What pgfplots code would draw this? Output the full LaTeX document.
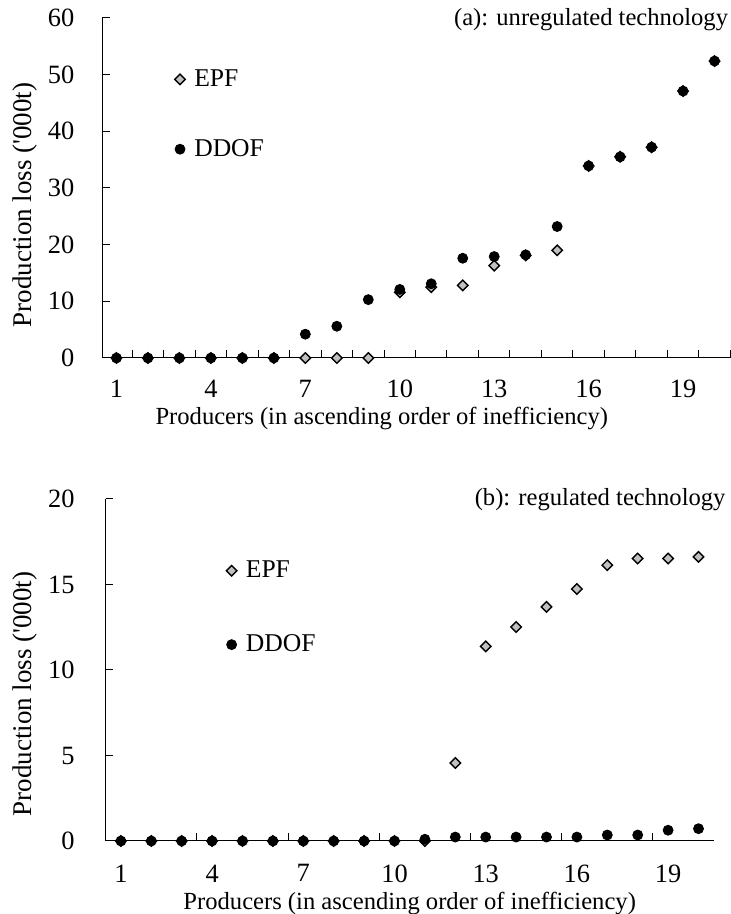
\documentclass[border=0pt]{standalone}
\usepackage{pgfplots}
\pgfplotsset{compat=1.18}
\usepackage{pgfplotstable}
\usepackage{fontspec}
\setmainfont{Liberation Serif}

\definecolor{epfgray}{RGB}{192,192,192}

\pgfplotstableread{
x y
1 0
2 0
3 0
4 0
5 0
6 0
7 0
8 0
9 0
10 11.6
11 12.5
12 12.8
13 16.3
14 18.1
15 19.0
16 33.9
17 35.5
18 37.2
19 47.1
20 52.4
}\epfa
\pgfplotstableread{
x y
1 0
2 0
3 0
4 0
5 0
6 0
7 4.2
8 5.6
9 10.3
10 12.1
11 13.1
12 17.6
13 17.9
14 18.2
15 23.2
16 33.9
17 35.5
18 37.2
19 47.1
20 52.4
}\ddofa
\pgfplotstableread{
x y
1 0
2 0
3 0
4 0
5 0
6 0
7 0
8 0
9 0
10 0
11 0
12 4.56
13 11.38
14 12.51
15 13.69
16 14.74
17 16.13
18 16.52
19 16.52
20 16.62
}\epfb
\pgfplotstableread{
x y
1 0
2 0
3 0
4 0
5 0
6 0
7 0
8 0
9 0
10 0
11 0.1
12 0.23
13 0.23
14 0.23
15 0.23
16 0.23
17 0.35
18 0.35
19 0.63
20 0.72
}\ddofb

\pgfplotsset{
  myaxis/.style={
    scale only axis,
    axis lines*=left,
    axis line style={-, line width=0.5pt, black},
    tick align=inside,
    tick style={black, line width=0.5pt},
    major tick length=3.8pt,
    minor tick length=3.8pt,
    major x tick style={draw=none},
    xtick={1,4,7,10,13,16,19},
    font=\fontsize{12.3}{15}\selectfont,
    tick label style={font=\fontsize{13.2}{15}\selectfont},
    /pgf/number format/assume math mode=true,
    clip=false,
    ylabel={Production loss (\textquotesingle 000t)},
    xlabel={Producers (in ascending order of inefficiency)},
    ylabel style={font=\fontsize{13.5}{15}\selectfont},
    legend cell align=left,
    legend style={draw=none, fill=none, column sep=2.5pt, font=\fontsize{12.8}{15}\selectfont},
    legend image code/.code={\draw[#1] plot coordinates {(0pt,0pt)};},
  },
  epf/.style={only marks, mark=square*, mark size=1.85pt, mark options={rotate=45, fill=epfgray, draw=black, line width=0.7pt}},
  ddof/.style={only marks, mark=*, mark size=2.5pt, mark options={fill=black, draw=black}},
}

\begin{document}
\begin{tikzpicture}
\path[use as bounding box] (0,0) rectangle (365pt,457pt);
% top panel
\begin{axis}[myaxis,
  at={(51.15pt,278pt)}, anchor=south west,
  width=314pt, height=170pt,
  xmin=0.55, xmax=20.5, ymin=0, ymax=60,
  ytick={0,10,...,60},
  minor xtick={1.5,2.5,...,20.5},
  xticklabel style={yshift=-7.5pt},
  yticklabel style={xshift=-10.5pt},
  ylabel style={at={(axis description cs:-0.1226,0.45)}, anchor=center},
  xlabel style={at={(axis description cs:0.445,0)}, anchor=base, yshift=-33.5pt},
  title={(a): unregulated technology},
  every axis title/.style={at={(rel axis cs:0.997,0.979)}, anchor=base east, inner sep=0pt, font=\fontsize{12.3}{15}\selectfont},
  legend style={at={(axis cs:2.65,43.0)}, anchor=west, row sep=21pt},
]
\addplot[epf] table {\epfa};
\addplot[ddof] table {\ddofa};
\legend{EPF,DDOF}
\end{axis}
% bottom panel
\begin{axis}[myaxis,
  at={(52.85pt,36.5pt)}, anchor=south west,
  width=304pt, height=171pt,
  xmin=0.5, xmax=20.5, ymin=0, ymax=20,
  ytick={0,5,...,20},
  minor xtick={3.5,6.5,...,18.5},
  xticklabel style={yshift=-8.3pt},
  yticklabel style={xshift=-12pt},
  ylabel style={at={(axis description cs:-0.1325,0.43)}, anchor=center},
  xlabel style={at={(axis description cs:0.5,0)}, anchor=base, yshift=-34.2pt},
  title={(b): regulated technology},
  every axis title/.style={at={(rel axis cs:1.02,0.98)}, anchor=base east, inner sep=0pt, font=\fontsize{12.3}{15}\selectfont},
  legend style={at={(axis cs:4.26,13.64)}, anchor=west, row sep=23pt},
]
\addplot[epf] table {\epfb};
\addplot[ddof] table {\ddofb};
\legend{EPF,DDOF}
\end{axis}
\end{tikzpicture}
\end{document}
